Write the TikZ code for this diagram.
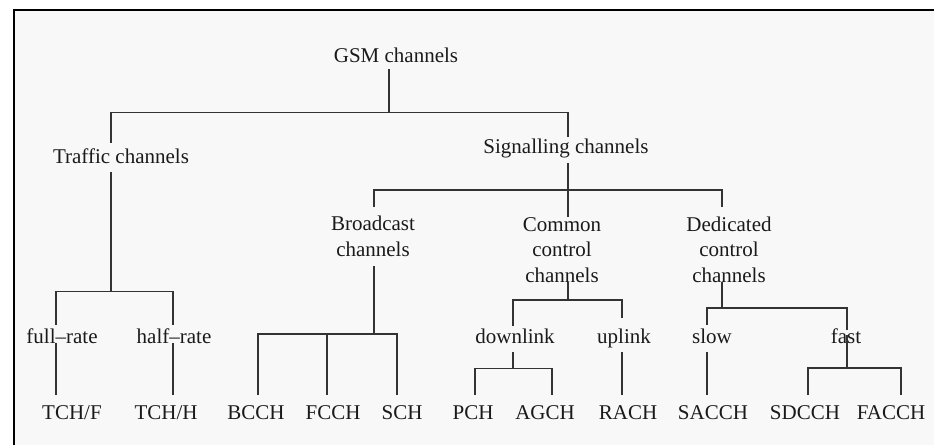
\documentclass[tikz,border=0pt]{standalone}
\usepackage{fontspec}
\setmainfont{Liberation Serif}
\definecolor{paper}{HTML}{F8F8F8}
\definecolor{ink}{HTML}{1A1A1A}
\definecolor{wire}{HTML}{333333}
\begin{document}
\begin{tikzpicture}[x=1pt,y=-1pt,
  lbl/.style={inner sep=0pt,anchor=base,text=ink,
    font=\fontsize{21}{25.5}\selectfont,text height=15pt,text depth=5pt},
  mlbl/.style={inner sep=0pt,anchor=base,text=ink,align=center,
    font=\fontsize{21}{25.5}\selectfont},
  link/.style={draw=wire,line width=1.4pt}]
\useasboundingbox (0,0) rectangle (934,445);
% frame and panel
\fill[white] (0,0) rectangle (934,445);
\fill[paper] (14,10) rectangle (934,445);
\draw[black,line width=2pt] (14,445) -- (14,10) -- (934,10);

% labels (multi-line labels sit on the baseline of their last line)
\node[lbl] (gsm) at (396,62) {GSM channels};
\node[lbl] (traffic) at (121,163) {Traffic channels};
\node[lbl] (signal) at (566,153) {Signalling channels};
\node[mlbl] (broad) at (373,256) {Broadcast\\channels};
\node[mlbl] (common) at (562,282) {Common\\control\\channels};
\node[mlbl] (dedic) at (729,282) {Dedicated\\control\\channels};
\node[lbl] (full) at (62,343) {full–rate};
\node[lbl] (half) at (174,343) {half–rate};
\node[lbl] (down) at (515,343) {downlink};
\node[lbl] (up) at (624,343) {uplink};
\node[lbl] (slow) at (712,343) {slow};
\node[lbl] (fast) at (846,343) {fast};
\node[lbl] (tchf) at (72,419) {TCH/F};
\node[lbl] (tchh) at (166,419) {TCH/H};
\node[lbl] (bcch) at (256,419) {BCCH};
\node[lbl] (fcch) at (333,419) {FCCH};
\node[lbl] (sch) at (402,419) {SCH};
\node[lbl] (pch) at (473,419) {PCH};
\node[lbl] (agch) at (545,419) {AGCH};
\node[lbl] (rach) at (628,419) {RACH};
\node[lbl] (sacch) at (713,419) {SACCH};
\node[lbl] (sdcch) at (805,419) {SDCCH};
\node[lbl] (facch) at (891,419) {FACCH};

% GSM channels -> traffic / signalling
\draw[link] ([xshift=-7pt,yshift=-2pt]gsm.south) -- ++(0,43) coordinate (bgsm);
\draw[link] ([xshift=-10pt,yshift=5pt]traffic.north) |- (bgsm)
  -| ([xshift=2pt,yshift=1pt]signal.north);

% traffic -> full / half rate
\draw[link] ([xshift=-10pt,yshift=-4pt]traffic.south) -- ++(0,119) coordinate (btr);
\draw[link] ([xshift=-6pt,yshift=3pt]full.north) |- (btr)
  -| ([xshift=-1pt,yshift=3pt]half.north);
\draw[link] ([xshift=-6pt,yshift=5pt]full.south) -- ([xshift=-16pt,yshift=9pt]tchf.north);
\draw[link] ([xshift=-1pt,yshift=5pt]half.south) -- ([xshift=7pt,yshift=9pt]tchh.north);

% signalling -> broadcast / common / dedicated
\draw[link] ([xshift=2pt,yshift=-5pt]signal.south) -- ([xshift=6pt,yshift=65pt]common.base);
\draw[link] ([xshift=1pt,yshift=49pt]broad.base) -- ++(0,-17)
  -| ([xshift=-7pt,yshift=75pt]dedic.base);

% broadcast -> BCCH / FCCH / SCH
\draw[link] ([xshift=1pt,yshift=-10pt]broad.base) -- ++(0,68) coordinate (bbr);
\draw[link] ([xshift=2pt,yshift=9pt]bcch.north) |- (bbr)
  -| ([xshift=-5pt,yshift=9pt]sch.north);
\coordinate (fcchtop) at ([xshift=-6pt,yshift=9pt]fcch.north);
\draw[link] (fcchtop) -- (fcchtop |- bbr);

% common control -> downlink / uplink
\draw[link] ([xshift=6pt]common.base) -- ++(0,18) coordinate (bcc);
\draw[link] ([xshift=-2pt,yshift=2pt]down.north) |- (bcc)
  -| ([xshift=-2pt,yshift=10pt]up.north);
\draw[link] ([xshift=-2pt,yshift=-4pt]down.south) -- ++(0,16) coordinate (bdl);
\draw[link] ([xshift=2pt,yshift=9pt]pch.north) |- (bdl)
  -| ([xshift=7pt,yshift=9pt]agch.north);
\draw[link] ([xshift=-2pt,yshift=-4pt]up.south) -- ([xshift=-6pt,yshift=9pt]rach.north);

% dedicated control -> slow / fast
\draw[link] ([xshift=-7pt]dedic.base) -- ++(0,26) coordinate (bdc);
\draw[link] ([xshift=-5pt,yshift=3pt]slow.north) |- (bdc)
  -| ([xshift=1pt,yshift=-2pt]fast.north);
\draw[link] ([xshift=-5pt,yshift=-4pt]slow.south) -- ([xshift=-6pt,yshift=9pt]sacch.north);
\draw[link] ([xshift=1pt,yshift=-7pt]fast.north) -- ++(0,33) coordinate (bfa);
\draw[link] ([xshift=3pt,yshift=9pt]sdcch.north) |- (bfa)
  -| ([xshift=10pt,yshift=9pt]facch.north);
\end{tikzpicture}
\end{document}
